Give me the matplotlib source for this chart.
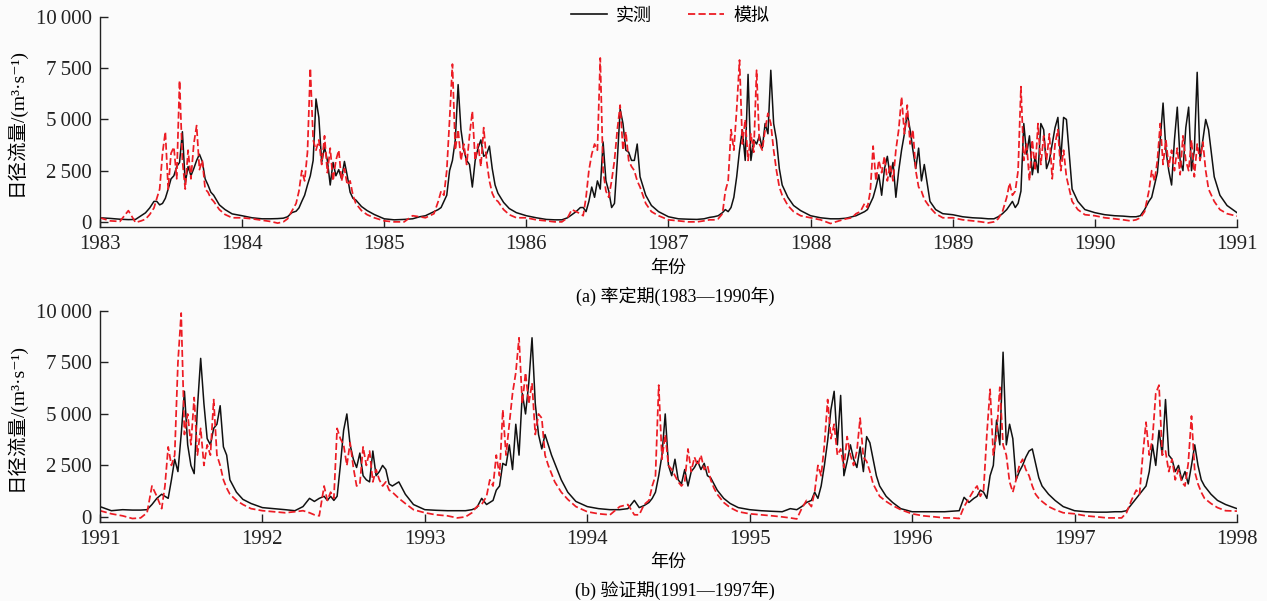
import matplotlib
matplotlib.use("Agg")
import matplotlib.pyplot as plt
from matplotlib.lines import Line2D

# sample dates inside each year (fraction of the year)
T_GRID = [0.00, 0.07, 0.14, 0.20, 0.25, 0.29, 0.32, 0.35, 0.38,
          0.40, 0.42, 0.44, 0.46, 0.48, 0.50, 0.52, 0.54, 0.56, 0.58, 0.60,
          0.62, 0.64, 0.66, 0.68, 0.70, 0.72, 0.74, 0.76, 0.78, 0.80,
          0.84, 0.88, 0.93]

## calibration period 1983-1990, daily runoff (m3/s)
obs_1983 = [200, 170, 130, 110, 120, 300, 440, 680, 1000,
            1000, 830, 900, 1150, 1600, 2100, 2250, 2700, 2900, 4400, 1900,
            2700, 2250, 2600, 3000, 3300, 2950, 2100, 1800, 1450, 1300,
            830, 600, 390]
sim_1983 = [200, 50, 20, 550, -30, 50, 130, 360, 680,
            1150, 1600, 3350, 4400, 1600, 3350, 3650, 2100, 6900, 3000, 1600,
            3500, 2100, 3800, 4700, 2550, 3000, 1600, 1450, 1150, 1000,
            600, 360, 200]
obs_1984 = [300, 200, 150, 150, 160, 180, 250, 450, 520,
            680, 1000, 1300, 1800, 2250, 3000, 6000, 5100, 2900, 3650, 3000,
            1800, 2900, 2250, 2550, 2100, 2950, 2250, 1450, 1150, 1070,
            750, 550, 360]
sim_1984 = [200, 150, 80, 20, -60, 0, 150, 520, 900,
            1500, 2500, 2000, 3400, 7500, 4000, 3500, 4000, 2800, 4200, 2400,
            3600, 2000, 3000, 3500, 2000, 2600, 1800, 2000, 1300, 900,
            550, 350, 200]
obs_1985 = [150, 100, 120, 150, 250, 300, 400, 500, 600,
            700, 1000, 1300, 2500, 3000, 4000, 6700, 4500, 3500, 3000, 2800,
            1700, 3000, 3600, 4000, 3200, 3300, 3700, 2600, 1800, 1400,
            950, 650, 450]
sim_1985 = [50, 0, 0, 300, 250, 200, 300, 400, 1000,
            1500, 1300, 2500, 5000, 7700, 3500, 4500, 3000, 3800, 2800, 4200,
            5400, 3000, 3800, 2700, 4600, 3000, 2000, 1400, 1100, 1000,
            600, 350, 200]
obs_1986 = [300, 200, 120, 100, 100, 200, 350, 500, 700,
            700, 500, 1000, 1700, 1200, 2000, 1600, 3900, 2000, 1500, 700,
            900, 3000, 5500, 4800, 3500, 3400, 3000, 3000, 3800, 2200,
            1300, 800, 500]
sim_1986 = [200, 100, 50, 0, 0, 200, 600, 500, 400,
            300, 1200, 2500, 3300, 3800, 3500, 8000, 2500, 1500, 1200, 2000,
            3000, 4500, 5700, 3500, 4400, 3000, 2700, 2500, 2000, 1700,
            900, 500, 300]
obs_1987 = [250, 150, 130, 120, 150, 220, 250, 300, 450,
            600, 500, 700, 1200, 2200, 3500, 4500, 3000, 7200, 3000, 4000,
            3800, 4200, 3600, 4800, 4300, 7400, 4800, 4000, 2600, 1800,
            1200, 800, 550]
sim_1987 = [100, 50, 0, 0, 50, 100, 100, 150, 400,
            1500, 2000, 4500, 3500, 5500, 7900, 3800, 5000, 3000, 4300, 3400,
            7400, 3800, 3500, 4500, 5300, 4800, 3500, 2500, 1700, 1300,
            800, 500, 300]
obs_1988 = [300, 200, 150, 150, 180, 250, 300, 400, 500,
            600, 900, 1200, 1700, 2300, 1300, 2600, 3200, 2200, 2900, 1200,
            2500, 3500, 4300, 5300, 4500, 3500, 2600, 3600, 2000, 2800,
            1000, 600, 400]
sim_1988 = [200, 100, -80, 50, 150, 200, 400, 500, 900,
            700, 1500, 3700, 2000, 3000, 2400, 3200, 2000, 2800, 2000, 3500,
            4500, 6100, 4300, 5700, 3800, 4500, 2500, 1700, 1500, 1100,
            700, 400, 200]
obs_1989 = [350, 250, 200, 180, 150, 150, 250, 400, 600,
            800, 1000, 700, 900, 1500, 4800, 3300, 4200, 2300, 3200, 2400,
            4800, 4500, 2600, 3000, 3800, 4600, 5100, 3000, 5100, 5000,
            1600, 1000, 600]
sim_1989 = [200, 100, 50, 0, -50, 0, 150, 500, 1200,
            1900, 1300, 1500, 2500, 6600, 3000, 3800, 2000, 4000, 2500, 4800,
            2800, 4200, 3000, 4300, 2100, 3800, 4500, 2500, 3500, 2200,
            1000, 600, 350]
obs_1990 = [450, 350, 300, 280, 250, 250, 300, 600, 1000,
            1200, 1800, 2400, 4000, 5800, 3500, 2500, 1800, 4000, 5600, 3000,
            2500, 4600, 5600, 2500, 3500, 7300, 3000, 4000, 5000, 4500,
            2200, 1300, 800]
sim_1990 = [300, 200, 150, 100, 50, 100, 200, 500, 1500,
            2500, 2000, 3000, 4800, 2800, 4000, 2700, 3500, 2500, 3600, 2300,
            4200, 3000, 2500, 4000, 2200, 3800, 3000, 3900, 2500, 1600,
            1000, 600, 400]
end_obs_a, end_sim_a = 450, 280

## validation period 1991-1997
obs_1991 = [500, 300, 350, 330, 330, 350, 600, 900, 1100,
            1000, 900, 1800, 2800, 2200, 4000, 6100, 3500, 2500, 2100, 5300,
            7700, 5500, 3800, 3500, 4300, 4500, 5400, 3400, 3000, 1800,
            1200, 850, 650]
sim_1991 = [300, 150, 50, -80, -50, 200, 1500, 1000, 400,
            1500, 3400, 2500, 3000, 7500, 9900, 4000, 5000, 3500, 5800, 3000,
            4300, 2500, 3500, 3000, 5700, 3000, 2500, 1800, 1400, 1100,
            800, 600, 400]
obs_1992 = [450, 400, 350, 300, 500, 900, 750, 900, 1000,
            800, 1000, 800, 1000, 2500, 4200, 5000, 3500, 2800, 2400, 3100,
            2000, 1800, 1700, 3200, 2000, 2200, 2500, 2300, 1600, 1500,
            1700, 1100, 600]
sim_1992 = [300, 250, 200, 250, 300, 200, 100, 50, 1500,
            800, 1200, 900, 4300, 3800, 3500, 2500, 3600, 2400, 1500, 1600,
            3400, 2500, 3200, 1700, 2300, 1800, 1500, 1700, 1300, 1200,
            900, 650, 350]
obs_1993 = [350, 320, 300, 300, 300, 350, 450, 900, 600,
            700, 800, 1300, 1500, 2600, 2500, 3500, 2300, 4500, 3000, 6000,
            5000, 6500, 8700, 5500, 4000, 3300, 4000, 3500, 3000, 2600,
            1800, 1200, 750]
sim_1993 = [200, 100, 50, -50, 0, 200, 500, 600, 1000,
            1800, 1500, 3000, 2000, 5200, 3000, 4500, 6000, 7000, 8700, 5500,
            7000, 5500, 6500, 4000, 5000, 4800, 3000, 2500, 2100, 1700,
            1200, 850, 500]
obs_1994 = [500, 400, 350, 350, 400, 800, 450, 550, 700,
            900, 1200, 2000, 3000, 5000, 2500, 2000, 2800, 1800, 1600, 2300,
            1500, 2200, 2400, 2700, 2300, 2600, 2000, 1900, 1600, 1300,
            900, 650, 450]
sim_1994 = [250, 150, 100, 500, 600, 100, 100, 600, 800,
            1500, 2000, 6400, 2800, 4000, 2500, 2300, 2000, 1700, 1500, 1700,
            3300, 2200, 2900, 2500, 3000, 2300, 2500, 1800, 1400, 1100,
            700, 450, 250]
obs_1995 = [350, 300, 270, 250, 400, 350, 500, 700, 800,
            1200, 900, 1500, 2500, 3700, 5200, 6100, 3500, 5900, 2000, 2700,
            3500, 2800, 2400, 3400, 2200, 3900, 3600, 2800, 2000, 1500,
            1000, 700, 400]
sim_1995 = [150, 100, 50, 0, -50, -100, 400, 800, 500,
            1200, 2500, 2000, 3500, 5700, 3800, 4500, 3000, 3300, 2400, 3900,
            3000, 2500, 3200, 4800, 2900, 2700, 2200, 1600, 1300, 1000,
            750, 550, 350]
obs_1996 = [250, 250, 250, 250, 280, 300, 950, 700, 900,
            1000, 1300, 1200, 900, 2000, 2500, 4700, 3500, 8000, 3500, 4500,
            3800, 1800, 2200, 2500, 2900, 3200, 3300, 2600, 1900, 1500,
            1100, 800, 500]
sim_1996 = [150, 50, 0, -50, -50, -80, 500, 900, 1300,
            1500, 1000, 1300, 4000, 6200, 3000, 4000, 6300, 3500, 3000, 1700,
            1200, 1800, 2500, 2800, 2300, 2000, 1500, 1100, 900, 750,
            500, 350, 200]
obs_1997 = [300, 250, 230, 230, 250, 250, 300, 600, 900,
            1100, 1300, 1500, 2200, 3500, 2500, 4200, 3000, 5700, 3000, 2800,
            2200, 2500, 1800, 2200, 1600, 2500, 3500, 2500, 1800, 1500,
            1100, 800, 600]
sim_1997 = [150, 50, 0, -50, -50, -50, 200, 800, 1300,
            1100, 3000, 4600, 3000, 3800, 6000, 6400, 3000, 3200, 2200, 2800,
            1800, 2300, 1700, 1500, 2600, 4900, 2200, 1600, 1200, 900,
            650, 450, 300]
end_obs_b, end_sim_b = 400, 280

years_a = [1983, 1984, 1985, 1986, 1987, 1988, 1989, 1990]
years_b = [1991, 1992, 1993, 1994, 1995, 1996, 1997]
obs_a = [obs_1983, obs_1984, obs_1985, obs_1986, obs_1987, obs_1988, obs_1989, obs_1990]
sim_a = [sim_1983, sim_1984, sim_1985, sim_1986, sim_1987, sim_1988, sim_1989, sim_1990]
obs_b = [obs_1991, obs_1992, obs_1993, obs_1994, obs_1995, obs_1996, obs_1997]
sim_b = [sim_1991, sim_1992, sim_1993, sim_1994, sim_1995, sim_1996, sim_1997]

y_ticks = [0, 2500, 5000, 7500, 10000]
y_ticklabels = ['0', '2\u2009500', '5\u2009000', '7\u2009500', '10\u2009000']

SERIF = ['Liberation Serif', 'DejaVu Serif']
CJK = ['Liberation Serif', 'Noto Sans CJK SC', 'DejaVu Sans']

RED = '#ec1c24'
BLACK = '#111111'


def join_years(years, obs, sim, end_obs, end_sim):
    t, o, s = [], [], []
    for y, ov, sv in zip(years, obs, sim):
        t += [y + d for d in T_GRID]
        o += ov
        s += sv
    t.append(years[-1] + 1)
    o.append(end_obs)
    s.append(end_sim)
    return t, o, s


def draw_panel(ax, years, obs, sim, end_obs, end_sim):
    t, o, s = join_years(years, obs, sim, end_obs, end_sim)
    ax.plot(t, o, color=BLACK, lw=1.1)
    ax.plot(t, s, color=RED, lw=1.25, linestyle=(0, (4, 1.8)))
    ax.set_xlim(years[0], years[-1] + 1)
    ax.set_ylim(-250, 10000)
    ax.set_xticks(list(range(years[0], years[-1] + 2)))
    ax.set_xticklabels([str(v) for v in range(years[0], years[-1] + 2)], family=SERIF, fontsize=15)
    ax.set_yticks(y_ticks)
    ax.set_yticklabels(y_ticklabels, family=SERIF, fontsize=15)
    ax.tick_params(direction='in', length=6, width=1.0, colors='#222222')
    ax.tick_params(axis='x', pad=6)
    ax.tick_params(axis='y', pad=6)
    for side in ['top', 'right']:
        ax.spines[side].set_visible(False)
    for side in ['left', 'bottom']:
        ax.spines[side].set_linewidth(1.0)
        ax.spines[side].set_color('#222222')
    ax.set_facecolor('none')
    ax.set_ylabel('日径流量/(m\u00b3\u00b7s\u207b\u00b9)', family=CJK, fontsize=14, labelpad=7)


fig = plt.figure(figsize=(12.67, 6.01), dpi=100, facecolor='#fbfbfb')
ax_a = fig.add_axes([0.0789, 0.6223, 0.8974, 0.3494])
ax_b = fig.add_axes([0.0789, 0.1314, 0.8974, 0.3511])

draw_panel(ax_a, years_a, obs_a, sim_a, end_obs_a, end_sim_a)
draw_panel(ax_b, years_b, obs_b, sim_b, end_obs_b, end_sim_b)

xc = 0.0789 + 0.8974 / 2
fig.text(xc, 1 - 268 / 601, '年份', family=CJK, fontsize=13, ha='center', va='center')
fig.text(xc + 0.005, 1 - 296 / 601, '(a) 率定期(1983—1990年)', family=CJK, fontsize=13,
         ha='center', va='center')
fig.text(xc, 1 - 562 / 601, '年份', family=CJK, fontsize=13, ha='center', va='center')
fig.text(xc + 0.005, 1 - 590 / 601, '(b) 验证期(1991—1997年)', family=CJK, fontsize=13,
         ha='center', va='center')

handles = [Line2D([], [], color=BLACK, lw=1.2),
           Line2D([], [], color=RED, lw=1.3, linestyle=(0, (4, 1.8)))]
fig.legend(handles, ['实测', '模拟'], loc='center', bbox_to_anchor=(670 / 1267, 1 - 16 / 601),
           ncol=2, frameon=False, prop={'family': CJK, 'size': 13},
           handlelength=2.0, handletextpad=0.5, columnspacing=2.0)

plt.savefig('out.png', dpi=100, facecolor=fig.get_facecolor())
